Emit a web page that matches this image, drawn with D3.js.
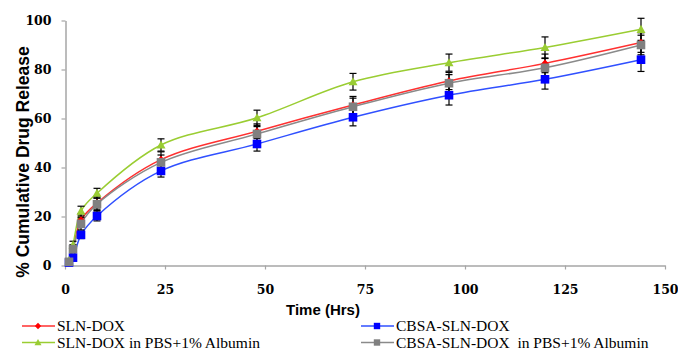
<!DOCTYPE html>
<html><head><meta charset="utf-8">
<script src="https://cdn.jsdelivr.net/npm/d3@7"></script>
<style>body{margin:0;background:#fff}svg{display:block}</style>
</head><body>
<script>
const times = [1, 2, 4, 8, 24, 48, 72, 96, 120, 144];
const slnDox = [1.5, 7, 18.6, 25.5, 43.2, 54.8, 65.5, 75.3, 82.5, 91];
const slnDoxSd = [0.8, 1.5, 2.5, 2.5, 3.2, 3.0, 3.5, 3.5, 3.8, 4.0];
const cbsaSlnDox = [1.2, 3.2, 12.5, 20.2, 38.6, 49.6, 60.5, 69.5, 76, 84];
const cbsaSlnDoxSd = [0.8, 1.2, 1.5, 2.0, 2.5, 2.9, 3.5, 4.0, 4.0, 4.8];
const slnDoxAlb = [2, 8.4, 22.2, 29.5, 49.2, 60.3, 75, 82.8, 89, 96.4];
const slnDoxAlbSd = [0.8, 1.5, 2.0, 2.0, 2.5, 3.1, 3.4, 3.5, 4.3, 4.5];
const cbsaSlnDoxAlb = [1.5, 6.7, 17, 25, 42.1, 53.7, 64.8, 74.4, 80.7, 90];
const cbsaSlnDoxAlbSd = [0.8, 1.5, 2.5, 2.5, 3.0, 3.0, 3.5, 3.5, 3.8, 4.0];
const xTicks = [0, 25, 50, 75, 100, 125, 150];
const yTicks = [0, 20, 40, 60, 80, 100];

const series = [
  {name: "SLN-DOX", vals: slnDox, sd: slnDoxSd, color: "#ff0000", line: "#ff3030", shape: "diamond"},
  {name: "CBSA-SLN-DOX", vals: cbsaSlnDox, sd: cbsaSlnDoxSd, color: "#0000ff", line: "#3050ff", shape: "square"},
  {name: "SLN-DOX in PBS+1% Albumin", vals: slnDoxAlb, sd: slnDoxAlbSd, color: "#99cc33", line: "#9acd32", shape: "triangle"},
  {name: "CBSA-SLN-DOX  in PBS+1% Albumin", vals: cbsaSlnDoxAlb, sd: cbsaSlnDoxAlbSd, color: "#808080", line: "#8a8a8a", shape: "square"}
];

const W = 678, H = 350;
const svg = d3.select("body").append("svg").attr("width", W).attr("height", H);
const x = d3.scaleLinear().domain([0, 150]).range([65, 665]);
const y = d3.scaleLinear().domain([0, 100]).range([265.5, 20.5]);

const axisColor = "#a6a6a6";
const xAxis = svg.append("g").attr("transform", "translate(0,265.5)")
  .call(d3.axisBottom(x).tickValues(xTicks).tickSize(4).tickSizeOuter(0).tickPadding(16));
const yAxis = svg.append("g").attr("transform", "translate(65.5,0)")
  .call(d3.axisLeft(y).tickValues(yTicks).tickSize(4).tickSizeOuter(0).tickPadding(10));
[xAxis, yAxis].forEach(g => {
  g.select(".domain").attr("stroke", axisColor).attr("stroke-width", 1.5);
  g.selectAll(".tick line").attr("stroke", axisColor).attr("stroke-width", 1.2);
  g.selectAll(".tick text").attr("fill", "#000")
    .style("font-family", "'DejaVu Serif', serif").style("font-weight", "bold").style("font-size", "12.5px");
});

svg.append("text").attr("x", 323).attr("y", 315).attr("text-anchor", "middle")
  .style("font-family", "'Liberation Sans',Arial,sans-serif")
  .style("font-weight", "bold").style("font-size", "15px").text("Time (Hrs)");
svg.append("text").attr("transform", "translate(29,162) rotate(-90)").attr("text-anchor", "middle")
  .style("font-family", "'Liberation Sans',Arial,sans-serif")
  .style("font-weight", "bold").style("font-size", "17.5px").text("% Cumulative Drug Release");

const line = d3.line().curve(d3.curveCatmullRom.alpha(0.5)).x(d => x(d[0])).y(d => y(d[1]));

function marker(g, shape, color, cx, cy, s) {
  if (shape === "diamond") {
    g.append("path").attr("d", `M${cx},${cy - s}L${cx + s},${cy}L${cx},${cy + s}L${cx - s},${cy}Z`).attr("fill", color);
  } else if (shape === "square") {
    g.append("rect").attr("x", cx - s).attr("y", cy - s).attr("width", 2 * s).attr("height", 2 * s).attr("fill", color);
  } else {
    g.append("path").attr("d", `M${cx},${cy - s}L${cx + s},${cy + s * 0.8}L${cx - s},${cy + s * 0.8}Z`).attr("fill", color);
  }
}
const msize = {diamond: 3.8, square: 4.3, triangle: 4.5};

series.forEach(s => {
  const pts = times.map((t, i) => [t, s.vals[i]]);
  svg.append("path").attr("d", line(pts)).attr("fill", "none").attr("stroke", s.line).attr("stroke-width", 1.5);
});
series.forEach(s => {
  const g = svg.append("g");
  times.forEach((t, i) => {
    const cx = x(t), v = s.vals[i], e = s.sd[i];
    g.append("line").attr("x1", cx).attr("x2", cx).attr("y1", y(v - e)).attr("y2", y(v + e)).attr("stroke", "#000").attr("stroke-width", 1.2);
    [v - e, v + e].forEach(yy => g.append("line").attr("x1", cx - 3.5).attr("x2", cx + 3.5).attr("y1", y(yy)).attr("y2", y(yy)).attr("stroke", "#000").attr("stroke-width", 1.2));
  });
});
series.forEach(s => {
  const g = svg.append("g");
  times.forEach((t, i) => marker(g, s.shape, s.color, x(t), y(s.vals[i]), msize[s.shape]));
});

// legend
const legPos = [[22, 326], [361, 326], [22, 342.5], [361, 342.5]];
series.forEach((s, i) => {
  const [lx, ly] = legPos[i];
  const g = svg.append("g");
  g.append("line").attr("x1", lx).attr("x2", lx + 33).attr("y1", ly).attr("y2", ly).attr("stroke", s.line).attr("stroke-width", 1.5);
  marker(g, s.shape, s.color, lx + 16, ly, s.shape === "triangle" ? 3.5 : 3.2);
  g.append("text").attr("x", lx + 35).attr("y", ly + 5).attr("xml:space", "preserve").style("white-space", "pre")
    .style("font-family", "'Liberation Serif','Times New Roman',serif").style("font-size", "15.5px").text(s.name);
});
</script>
</body></html>
